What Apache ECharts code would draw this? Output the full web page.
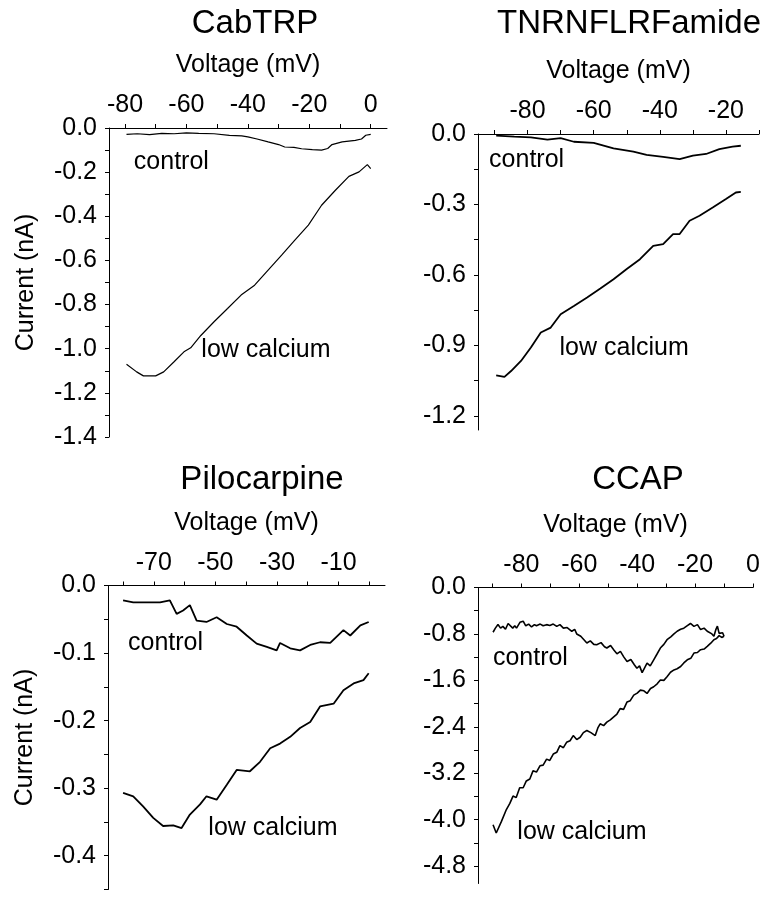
<!DOCTYPE html>
<html>
<head>
<meta charset="utf-8">
<script src="https://cdn.jsdelivr.net/npm/echarts@6/dist/echarts.min.js"></script>
<style>
html,body{margin:0;padding:0;background:#fff;}
#chart{width:765px;height:900px;}
</style>
</head>
<body>
<div id="chart"></div>
<script>
// ---------- DATA ----------
const panelTitles = ['CabTRP', 'TNRNFLRFamide', 'Pilocarpine', 'CCAP'];
const seriesNames = ['control', 'low calcium'];

// CabTRP
const cabControlV = [-79.5,-76,-72,-68,-64,-60,-56,-51,-46,-42,-40,-37,-33.4,-30,-28,-25,-22.5,-19,-16,-14,-12.6,-9.3,-5,-3,-1.6,0];
const cabControlI = [-0.029,-0.026,-0.030,-0.024,-0.026,-0.022,-0.024,-0.026,-0.033,-0.036,-0.040,-0.050,-0.063,-0.075,-0.086,-0.088,-0.094,-0.098,-0.100,-0.093,-0.075,-0.063,-0.056,-0.050,-0.033,-0.029];
const cabLowV = [-79.5,-76.2,-74,-70,-67.4,-64.1,-60.8,-58.6,-55.3,-51,-46.6,-42.2,-37.8,-33.4,-29,-24.7,-20.3,-16,-11.5,-7.1,-3.8,-1.1,0];
const cabLowI = [-1.07,-1.105,-1.123,-1.123,-1.105,-1.06,-1.014,-0.996,-0.94,-0.878,-0.818,-0.757,-0.712,-0.644,-0.576,-0.508,-0.44,-0.35,-0.282,-0.219,-0.199,-0.166,-0.184];

// TNRNFLRFamide
const tnrControlV = [-89.5,-84,-79,-74,-70,-66,-60,-54,-48,-44,-39,-34,-30,-26,-22,-18,-15.5];
const tnrControlI = [-0.007,-0.011,-0.014,-0.024,-0.018,-0.033,-0.038,-0.061,-0.075,-0.089,-0.097,-0.107,-0.092,-0.085,-0.064,-0.054,-0.05];
const tnrLowV = [-89.5,-87,-85,-82,-79,-76,-73,-70,-66,-62,-58,-54,-50,-46,-42,-39,-36,-34,-31,-28,-24,-20,-17,-15.5];
const tnrLowI = [-1.027,-1.034,-1.009,-0.966,-0.909,-0.845,-0.824,-0.767,-0.732,-0.696,-0.658,-0.618,-0.575,-0.533,-0.476,-0.469,-0.426,-0.426,-0.369,-0.348,-0.313,-0.277,-0.249,-0.246];

// Pilocarpine
const piloControlV = [-80,-76.7,-72.4,-68,-64.8,-62.6,-60.5,-58.3,-56.1,-52.9,-49.6,-46.3,-43.1,-39.8,-36.6,-33.3,-30.1,-29,-25.7,-22.5,-19.2,-16,-12.7,-8.4,-6.2,-2.9,-0.2];
const piloControlI = [-0.022,-0.025,-0.025,-0.025,-0.022,-0.042,-0.037,-0.029,-0.052,-0.054,-0.047,-0.057,-0.061,-0.074,-0.086,-0.091,-0.096,-0.085,-0.093,-0.096,-0.088,-0.084,-0.085,-0.066,-0.074,-0.059,-0.054];
const piloLowV = [-80,-76.7,-73.5,-70.2,-67,-63.7,-61,-58.3,-55,-52.9,-49.6,-46.3,-43.1,-38.8,-35.5,-32.2,-29,-25.7,-22.5,-19.2,-16,-11.6,-8.4,-5.1,-1.9,-0.2];
const piloLowI = [-0.307,-0.312,-0.327,-0.344,-0.356,-0.355,-0.359,-0.339,-0.324,-0.312,-0.317,-0.295,-0.273,-0.275,-0.261,-0.241,-0.234,-0.224,-0.211,-0.202,-0.179,-0.175,-0.155,-0.145,-0.14,-0.13];

// CCAP
const ccapControlV = [-89.8,-89,-88.1,-87.2,-86.4,-85.5,-84.6,-84,-83,-82.3,-81.7,-80.5,-79.4,-78.5,-77.5,-76.5,-75.5,-74.8,-73.5,-72.5,-71.3,-70.2,-69,-67.8,-66.7,-65.5,-64.2,-62.6,-61.6,-60.9,-59.5,-58.4,-57.4,-56.2,-55,-54,-52.5,-51.3,-50.5,-49.2,-48,-47,-45.8,-44.6,-43.5,-42.2,-41,-40.1,-39.2,-38.3,-37.4,-36.6,-35.5,-34.3,-33.2,-32,-30.8,-29.7,-28.4,-27.3,-26.2,-25,-23.9,-22.8,-21.6,-20.4,-19.2,-18.1,-16.9,-15.8,-15.2,-14.2,-13.5,-12.8,-12.3,-11.7,-11.1,-10.5,-10];
const ccapControlI = [-0.771,-0.70,-0.638,-0.70,-0.67,-0.72,-0.62,-0.609,-0.70,-0.66,-0.70,-0.60,-0.58,-0.66,-0.63,-0.68,-0.64,-0.66,-0.63,-0.66,-0.64,-0.655,-0.63,-0.67,-0.64,-0.70,-0.69,-0.754,-0.72,-0.80,-0.84,-0.90,-0.957,-0.92,-0.98,-0.986,-0.95,-1.02,-1.043,-1.00,-1.08,-1.142,-1.10,-1.20,-1.275,-1.24,-1.33,-1.391,-1.35,-1.467,-1.38,-1.304,-1.35,-1.246,-1.15,-1.043,-0.98,-0.899,-0.85,-0.80,-0.754,-0.72,-0.70,-0.66,-0.62,-0.67,-0.64,-0.725,-0.70,-0.754,-0.72,-0.80,-0.841,-0.72,-0.667,-0.79,-0.812,-0.78,-0.841];
const ccapLowV = [-89.8,-88.7,-86.9,-85.2,-84,-82.9,-81.8,-80.6,-79.4,-78.3,-77.1,-76,-74.8,-73.6,-72.5,-71.3,-70.2,-69,-67.8,-66.7,-65.5,-64.4,-63.2,-62.1,-60.9,-59.7,-58.6,-57.4,-56,-54.5,-53.6,-52.8,-51.6,-50.5,-49.3,-48.2,-47,-45.9,-44.7,-43.5,-42.4,-41.2,-40,-38.9,-37.7,-36.6,-35.4,-34.3,-33.1,-32,-30.8,-29.7,-28.5,-27.3,-26.2,-25,-23.9,-22.7,-21.5,-20.4,-19.2,-18.1,-16.9,-15.8,-14.6,-13.5,-12.6,-11.7,-10.8,-10];
const ccapLowI = [-4.087,-4.23,-4.03,-3.826,-3.72,-3.594,-3.62,-3.449,-3.45,-3.333,-3.30,-3.159,-3.18,-3.072,-3.06,-2.957,-2.98,-2.87,-2.84,-2.725,-2.76,-2.667,-2.64,-2.551,-2.62,-2.58,-2.50,-2.464,-2.50,-2.551,-2.42,-2.348,-2.38,-2.319,-2.28,-2.232,-2.18,-2.087,-2.10,-1.971,-1.95,-1.855,-1.82,-1.768,-1.78,-1.826,-1.74,-1.71,-1.66,-1.594,-1.60,-1.536,-1.46,-1.42,-1.40,-1.362,-1.30,-1.246,-1.22,-1.13,-1.12,-1.072,-1.06,-1.014,-0.96,-0.899,-0.88,-0.829,-0.86,-0.841];

// tick labels
const cabXLabels = [-80,-60,-40,-20,0];
const cabXTicks = [-80,-70,-60,-50,-40,-30,-20,-10,0];
const cabYLabels = [0,-0.2,-0.4,-0.6,-0.8,-1.0,-1.2,-1.4];
const cabYTicks = [0,-0.1,-0.2,-0.3,-0.4,-0.5,-0.6,-0.7,-0.8,-0.9,-1.0,-1.1,-1.2,-1.3,-1.4];

const tnrXLabels = [-80,-60,-40,-20];
const tnrXTicks = [-90,-80,-70,-60,-50,-40,-30,-20,-10];
const tnrYLabels = [0,-0.3,-0.6,-0.9,-1.2];
const tnrYTicks = [0,-0.15,-0.3,-0.45,-0.6,-0.75,-0.9,-1.05,-1.2];

const piloXLabels = [-70,-50,-30,-10];
const piloXTicks = [-80,-70,-60,-50,-40,-30,-20,-10,0];
const piloYLabels = [0,-0.1,-0.2,-0.3,-0.4];
const piloYTicks = [0,-0.05,-0.1,-0.15,-0.2,-0.25,-0.3,-0.35,-0.4,-0.45];

const ccapXLabels = [-80,-60,-40,-20,0];
const ccapXTicks = [-90,-80,-70,-60,-50,-40,-30,-20,-10,0];
const ccapYLabels = [0,-0.8,-1.6,-2.4,-3.2,-4.0,-4.8];
const ccapYTicks = [0,-0.4,-0.8,-1.2,-1.6,-2.0,-2.4,-2.8,-3.2,-3.6,-4.0,-4.4,-4.8];

// ---------- BUILD ----------
const FONT = '"Liberation Sans", Arial, Helvetica, sans-serif';
const zip = (v, i) => v.map((x, k) => [x, i[k]]);

const panels = [
  { grid:{left:109, top:128, width:278, height:309}, xMin:-85.2, xMax:5.3, yMin:-1.4, yMax:0,
    xl:cabXLabels, xt:cabXTicks, yl:cabYLabels, yt:cabYTicks, yName:'Current (nA)', lw:1.2,
    c:zip(cabControlV,cabControlI), l:zip(cabLowV,cabLowI),
    cLab:[-64.9,-0.154], lLab:[-34.1,-1.006], titleX:250 },
  { grid:{left:478, top:134, width:281, height:296}, xMin:-95, xMax:-10, yMin:-1.26, yMax:0,
    xl:tnrXLabels, xt:tnrXTicks, yl:tnrYLabels, yt:tnrYTicks, yName:'', lw:1.8,
    c:zip(tnrControlV,tnrControlI), l:zip(tnrLowV,tnrLowI),
    cLab:[-80.3,-0.111], lLab:[-50.8,-0.911], titleX:624 },
  { grid:{left:108, top:585.5, width:277, height:304}, xMin:-84.9, xMax:5.1, yMin:-0.45, yMax:0,
    xl:piloXLabels, xt:piloXTicks, yl:piloYLabels, yt:piloYTicks, yName:'Current (nA)', lw:1.8,
    c:zip(piloControlV,piloControlI), l:zip(piloLowV,piloLowI),
    cLab:[-66.2,-0.085], lLab:[-31.3,-0.359], titleX:257 },
  { grid:{left:478, top:587.5, width:275, height:296}, xMin:-95, xMax:0, yMin:-5.1, yMax:0,
    xl:ccapXLabels, xt:ccapXTicks, yl:ccapYLabels, yt:ccapYTicks, yName:'', lw:1.6,
    c:zip(ccapControlV,ccapControlI), l:zip(ccapLowV,ccapLowI),
    cLab:[-76.9,-1.216], lLab:[-59.1,-4.216], titleX:633 }
];
const titleTops = [2, 2, 458, 458];

const axisLineStyle = { color:'#000', width:1 };
const option = {
  animation:false,
  backgroundColor:'#fff',
  textStyle:{ fontFamily: FONT },
  title: panels.map((p, k) => ({
    text: panelTitles[k], left: p.titleX, top: titleTops[k], textAlign:'center',
    textStyle:{ fontSize:33, fontWeight:'normal', color:'#000', fontFamily:FONT }
  })),
  grid: panels.map(p => p.grid),
  xAxis: panels.map((p, k) => ({
    gridIndex:k, type:'value', position:'top', min:p.xMin, max:p.xMax,
    name:'Voltage (mV)', nameLocation:'middle', nameGap:50,
    nameTextStyle:{ fontSize:25, color:'#000', fontFamily:FONT },
    axisLine:{ show:true, onZero:false, lineStyle:axisLineStyle },
    axisTick:{ show:true, inside:false, length:4, customValues:p.xt, lineStyle:axisLineStyle },
    axisLabel:{ show:true, customValues:p.xl, fontSize:25, color:'#000', margin:10, fontFamily:FONT,
      formatter: v => String(Math.round(v)) },
    splitLine:{ show:false }
  })),
  yAxis: panels.map((p, k) => ({
    gridIndex:k, type:'value', position:'left', min:p.yMin, max:p.yMax,
    name:p.yName, nameLocation:'middle', nameGap:70, nameRotate:90,
    nameTextStyle:{ fontSize:25, color:'#000', fontFamily:FONT },
    axisLine:{ show:true, onZero:false, lineStyle:axisLineStyle },
    axisTick:{ show:true, inside:false, length:4, customValues:p.yt, lineStyle:axisLineStyle },
    axisLabel:{ show:true, customValues:p.yl, fontSize:25, color:'#000', margin:12, fontFamily:FONT,
      formatter: v => (Math.abs(v) < 1e-9 ? 0 : v).toFixed(1) },
    splitLine:{ show:false }
  })),
  series: []
};
panels.forEach((p, k) => {
  [[p.c, p.cLab, seriesNames[0]], [p.l, p.lLab, seriesNames[1]]].forEach(([data, lab, nm]) => {
    option.series.push({
      type:'line', name:nm, xAxisIndex:k, yAxisIndex:k, data:data,
      showSymbol:false, symbol:'none', smooth:false,
      lineStyle:{ color:'#000', width:p.lw }, silent:true,
      markPoint:{
        symbol:'circle', symbolSize:0, silent:true,
        data:[{ coord:lab, value:nm }],
        label:{ show:true, position:'inside', formatter:nm, fontSize:25, color:'#000', fontFamily:FONT }
      }
    });
  });
});
const chart = echarts.init(document.getElementById('chart'), null, { renderer:'canvas' });
chart.setOption(option);
</script>
</body>
</html>
